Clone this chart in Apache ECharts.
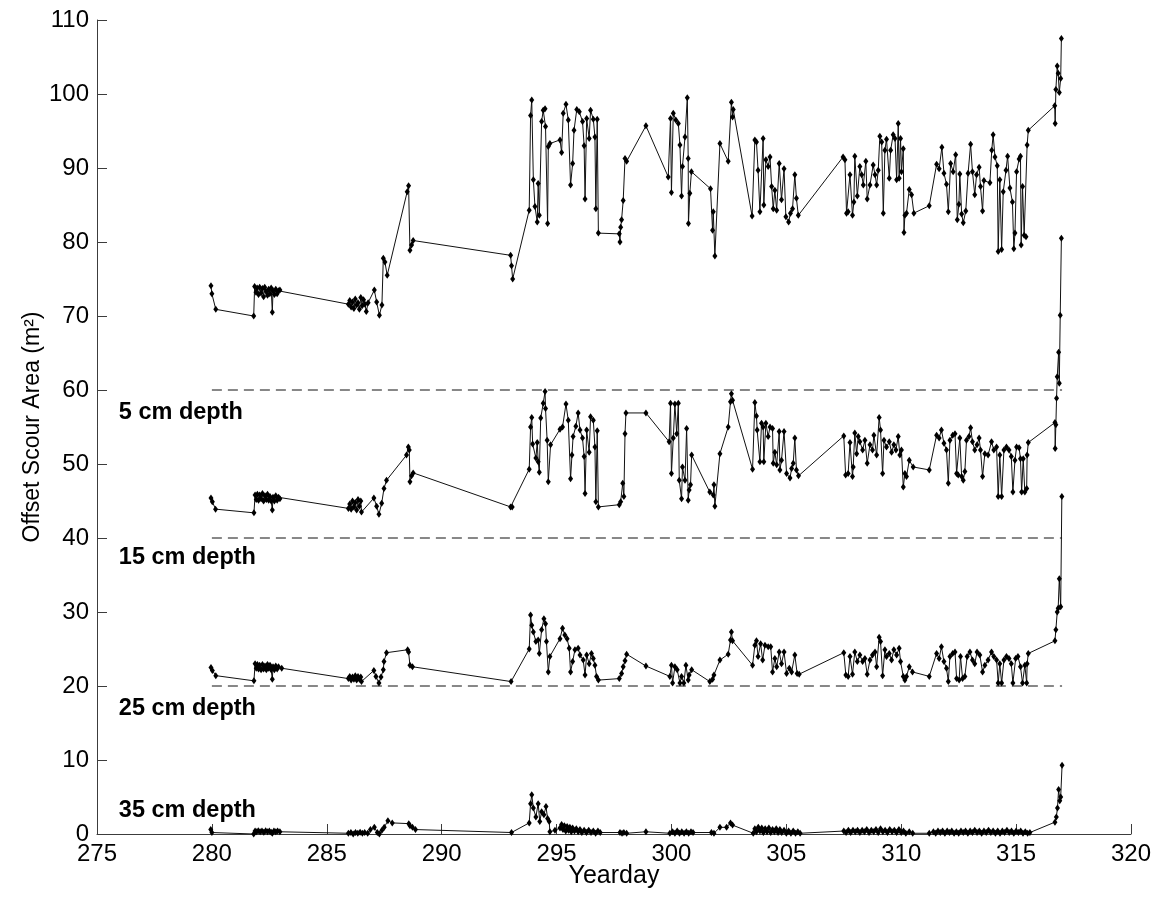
<!DOCTYPE html>
<html>
<head>
<meta charset="utf-8">
<script src="https://cdn.jsdelivr.net/npm/echarts@6/dist/echarts.min.js"></script>
<style>
html,body{margin:0;padding:0;background:#fff;}
#chart{width:1156px;height:898px;}
</style>
</head>
<body>
<div id="chart"></div>
<script>
// [yearday, offset scour area]
const depth5 = [
[279.96,74.1],[280.00,73.0],[280.17,70.9],[281.82,70.0],[281.86,74.0],[281.92,73.2],[281.97,73.8],[282.03,72.9],[282.08,73.9],[282.14,73.1],[282.20,73.7],[282.25,72.6],[282.30,73.9],[282.36,73.3],[282.42,72.8],[282.47,73.6],[282.52,73.0],[282.58,73.8],[282.63,70.5],[282.66,73.4],[282.72,72.9],[282.78,73.6],[282.84,73.0],[282.90,73.4],[282.96,73.5],
[285.94,71.6],[286.00,72.1],[286.06,71.2],[286.12,71.9],[286.18,71.0],[286.24,72.3],[286.30,71.5],[286.36,71.8],[286.42,70.9],[286.48,72.5],[286.54,71.4],[286.60,72.2],[286.66,71.6],[286.72,70.6],[286.80,71.8],[287.07,73.5],[287.17,71.9],[287.29,70.1],[287.40,71.5],[287.46,77.8],[287.53,77.3],[287.63,75.5],[288.50,86.8],[288.56,87.6],[288.62,78.9],[288.69,79.6],[288.76,80.2],
[293.00,78.2],[293.04,76.8],[293.09,75.0],[293.81,84.3],[293.87,97.1],[293.92,99.2],[293.99,88.4],[294.06,84.8],[294.16,82.7],[294.20,87.9],[294.25,83.6],[294.35,96.3],[294.42,97.8],[294.50,98.0],[294.52,95.6],[294.61,82.5],[294.64,92.9],[294.71,93.3],[295.15,93.8],[295.22,92.1],[295.29,97.4],[295.41,98.6],[295.51,96.5],[295.61,87.7],[295.70,90.6],[295.76,95.1],[295.88,97.9],[295.99,97.6],[296.13,96.3],[296.20,93.0],[296.24,85.8],[296.31,96.7],[296.42,94.0],[296.48,97.8],[296.60,96.6],[296.67,94.2],[296.71,84.5],[296.77,96.6],[296.82,81.2],
[297.73,81.1],[297.76,80.0],[297.79,82.0],[297.83,83.0],[297.90,85.6],[297.98,91.3],[298.05,90.9],[298.89,95.7],[299.86,88.8],[299.96,96.7],[300.00,86.7],[300.08,97.4],[300.19,96.5],[300.30,96.0],[300.37,93.1],[300.44,86.2],[300.48,90.2],[300.59,94.2],[300.69,99.5],[300.73,91.3],[300.74,82.5],[300.80,86.6],[300.87,89.5],[301.70,87.2],[301.79,81.6],[301.82,84.1],[301.89,78.1],[302.11,93.3],[302.47,90.9],[302.61,98.9],[302.66,96.9],[302.69,97.9],
[303.51,83.5],[303.63,93.8],[303.70,93.5],[303.77,89.7],[303.85,84.1],[303.99,94.0],[304.02,85.0],[304.11,91.1],[304.21,90.2],[304.29,91.5],[304.36,87.5],[304.43,84.5],[304.50,87.0],[304.58,84.3],[304.69,90.6],[304.79,85.7],[304.90,89.9],[304.98,83.4],[305.10,82.7],[305.18,83.9],[305.27,84.5],[305.37,89.1],[305.44,85.9],[305.52,83.6],
[307.47,91.5],[307.55,91.1],[307.62,83.9],[307.69,84.1],[307.77,89.1],[307.88,83.6],[307.94,85.4],[307.98,91.6],[308.09,86.2],[308.20,90.2],[308.28,89.1],[308.35,87.7],[308.46,90.9],[308.52,85.8],[308.64,87.7],[308.78,90.4],[308.86,89.1],[308.93,87.7],[309.00,89.7],[309.07,94.3],[309.15,93.5],[309.22,83.9],[309.29,92.4],[309.36,93.9],[309.48,88.6],[309.54,92.4],[309.65,94.5],[309.73,94.0],[309.80,88.4],[309.87,96.0],[309.91,88.6],[309.97,94.0],[310.01,89.5],[310.09,92.6],[310.12,81.3],[310.16,83.6],[310.23,83.9],[310.35,87.1],[310.45,86.4],[310.55,83.9],
[311.22,84.9],[311.54,90.5],[311.65,89.9],[311.77,92.8],[311.86,89.3],[311.97,87.8],[312.05,84.1],[312.15,90.6],[312.26,89.5],[312.37,91.8],[312.44,83.0],[312.51,85.1],[312.55,89.2],[312.63,83.8],[312.70,82.6],[312.81,84.2],[312.91,89.3],[313.02,93.2],[313.10,89.5],[313.20,86.4],[313.28,89.1],[313.39,90.1],[313.45,87.5],[313.54,84.2],[313.60,88.3],[313.86,88.0],[313.94,92.4],[314.00,94.5],[314.08,91.5],[314.18,90.3],[314.22,78.7],[314.29,88.4],[314.37,79.0],[314.44,86.8],[314.56,89.7],[314.63,91.6],[314.73,87.3],[314.84,85.4],[314.90,79.1],[314.95,81.2],[315.02,89.5],[315.13,91.2],[315.19,91.6],[315.22,79.6],[315.28,87.5],[315.35,80.9],[315.43,80.7],[315.48,93.1],[315.53,95.1],
[316.68,98.4],[316.70,96.0],[316.73,100.6],[316.79,103.8],[316.83,102.8],[316.88,100.2],[316.94,102.1],[316.97,107.5]
];

const depth15 = [
[279.96,45.4],[280.02,44.9],[280.16,43.9],[281.83,43.4],[281.88,45.8],[281.93,45.2],[281.98,45.9],[282.03,45.1],[282.08,45.8],[282.14,45.3],[282.20,46.0],[282.25,45.0],[282.31,45.7],[282.37,45.2],[282.42,45.9],[282.47,45.1],[282.53,45.6],[282.58,45.0],[282.63,43.8],[282.66,45.5],[282.72,45.0],[282.78,45.7],[282.84,45.1],[282.90,45.5],[282.96,45.3],
[285.94,44.0],[286.00,44.6],[286.06,43.9],[286.12,45.0],[286.18,44.2],[286.24,44.8],[286.30,43.8],[286.36,45.2],[286.42,44.3],[286.48,45.0],[286.51,43.5],[287.05,45.4],[287.17,44.3],[287.27,43.2],[287.39,44.7],[287.49,46.7],[287.60,47.8],[288.47,51.2],[288.55,52.3],[288.59,51.9],[288.62,47.6],[288.69,48.4],[288.76,48.8],
[293.00,44.2],[293.07,44.2],[293.81,49.3],[293.87,55.0],[293.92,56.3],[293.96,52.7],[294.10,50.8],[294.16,52.9],[294.20,50.3],[294.25,48.9],[294.31,56.2],[294.42,58.2],[294.50,59.8],[294.52,57.5],[294.59,53.2],[294.64,47.6],[294.74,52.6],[295.15,54.7],[295.26,55.0],[295.41,58.1],[295.51,55.9],[295.61,48.0],[295.67,51.2],[295.72,53.7],[295.84,55.1],[295.94,56.9],[296.02,54.6],[296.13,53.5],[296.20,51.0],[296.24,46.0],[296.31,54.6],[296.42,51.6],[296.48,56.4],[296.60,55.9],[296.67,52.3],[296.71,44.9],[296.77,54.5],[296.82,44.2],
[297.73,44.5],[297.79,44.9],[297.88,47.4],[297.93,45.6],[297.98,54.1],[298.02,56.9],[298.89,56.9],[299.90,53.0],[299.96,58.2],[300.00,48.7],[300.08,53.5],[300.15,58.1],[300.23,54.1],[300.30,58.2],[300.34,47.8],[300.44,45.3],[300.48,49.6],[300.59,47.8],[300.66,54.8],[300.73,45.1],[300.77,46.5],[300.83,47.2],[300.88,51.2],[301.67,46.2],[301.82,45.8],[301.85,47.2],[301.89,44.3],[302.11,51.4],[302.47,55.0],[302.57,58.4],[302.61,59.5],[302.66,58.6],
[303.53,49.3],[303.63,58.3],[303.70,56.5],[303.73,54.6],[303.85,50.3],[303.92,55.5],[303.99,55.0],[304.02,50.3],[304.11,55.5],[304.21,53.7],[304.29,55.0],[304.40,54.8],[304.43,50.1],[304.50,51.6],[304.58,49.9],[304.69,54.4],[304.72,49.2],[304.79,50.5],[304.90,54.4],[305.01,48.7],[305.16,48.1],[305.23,49.4],[305.30,50.1],[305.37,53.5],[305.44,49.2],[305.53,48.4],
[307.50,53.8],[307.58,48.5],[307.69,48.7],[307.77,52.9],[307.88,48.3],[307.91,49.6],[307.98,54.2],[308.06,51.4],[308.13,53.7],[308.20,53.0],[308.32,51.9],[308.42,53.2],[308.52,50.1],[308.64,52.6],[308.75,51.9],[308.81,53.9],[308.93,51.2],[309.04,56.3],[309.10,54.6],[309.19,48.7],[309.25,53.2],[309.36,52.3],[309.48,53.0],[309.58,51.6],[309.68,52.6],[309.77,51.9],[309.87,53.7],[309.94,51.2],[310.01,51.9],[310.09,46.9],[310.16,48.7],[310.23,48.3],[310.35,50.5],[310.52,49.6],
[311.22,49.2],[311.54,53.9],[311.65,53.5],[311.75,54.6],[311.86,52.8],[311.97,51.9],[312.05,47.4],[312.12,53.2],[312.24,53.9],[312.34,54.1],[312.41,48.7],[312.48,48.5],[312.55,53.5],[312.63,48.3],[312.70,47.8],[312.77,49.0],[312.84,53.2],[312.95,53.7],[313.02,54.9],[313.10,53.0],[313.20,51.9],[313.30,52.6],[313.39,53.5],[313.45,51.9],[313.54,48.3],[313.64,51.4],[313.78,51.2],[313.93,53.0],[314.03,51.9],[314.15,52.3],[314.22,45.6],[314.29,51.2],[314.37,45.6],[314.47,51.9],[314.58,52.3],[314.69,51.9],[314.79,51.0],[314.86,46.2],[314.95,50.5],[315.02,52.3],[315.13,52.2],[315.19,50.7],[315.24,46.2],[315.31,50.7],[315.38,46.2],[315.46,46.7],[315.48,51.2],[315.53,52.9],
[316.69,55.6],[316.70,52.1],[316.73,55.3],[316.76,58.9],[316.79,61.8],[316.85,65.1],[316.88,60.9],[316.92,70.1],[316.97,80.5]
];

const depth25 = [
[279.96,22.5],[280.02,22.1],[280.17,21.4],[281.83,20.7],[281.88,23.0],[281.93,22.4],[281.98,22.9],[282.03,22.3],[282.08,22.8],[282.14,22.2],[282.20,22.9],[282.25,22.3],[282.31,22.7],[282.37,22.2],[282.42,22.9],[282.47,22.4],[282.53,22.8],[282.58,22.2],[282.63,20.9],[282.66,22.6],[282.72,22.2],[282.78,22.7],[282.84,22.3],[282.90,22.6],[283.04,22.4],
[285.94,21.0],[286.00,21.3],[286.06,20.8],[286.12,21.2],[286.18,20.9],[286.24,21.4],[286.30,20.8],[286.36,21.3],[286.42,20.9],[286.48,21.2],[286.51,20.6],[287.05,22.1],[287.14,21.3],[287.27,20.4],[287.36,21.2],[287.46,22.2],[287.49,23.3],[287.60,24.5],[288.52,24.9],[288.56,24.6],[288.62,22.8],[288.73,22.6],
[293.02,20.6],[293.81,25.0],[293.87,29.6],[293.92,28.2],[293.99,27.3],[294.10,26.0],[294.20,26.2],[294.25,24.4],[294.35,27.6],[294.45,29.1],[294.52,28.4],[294.56,26.0],[294.64,21.9],[294.71,24.0],[295.15,26.4],[295.26,27.8],[295.36,26.9],[295.46,26.4],[295.55,25.1],[295.61,21.9],[295.70,23.3],[295.80,24.9],[295.94,25.1],[296.02,24.2],[296.16,23.5],[296.24,21.5],[296.31,24.2],[296.42,23.0],[296.52,24.4],[296.60,23.7],[296.67,22.8],[296.74,21.3],[296.82,20.8],
[297.73,21.0],[297.83,21.7],[297.90,22.6],[297.98,23.4],[298.05,24.3],[298.89,22.7],[299.93,21.3],[300.00,22.8],[300.05,20.4],[300.15,22.6],[300.25,22.2],[300.37,20.4],[300.44,21.3],[300.54,20.4],[300.63,22.8],[300.73,20.8],[300.77,21.5],[300.88,22.2],[301.67,20.6],[301.79,20.9],[301.85,21.5],[302.11,23.5],[302.47,24.3],[302.57,26.2],[302.61,27.3],[302.66,26.1],
[303.53,22.8],[303.63,25.5],[303.70,26.1],[303.77,24.0],[303.88,25.7],[303.97,23.5],[304.07,25.5],[304.21,25.3],[304.32,25.3],[304.40,21.9],[304.50,23.7],[304.58,22.6],[304.69,24.6],[304.79,23.0],[304.90,24.6],[305.01,21.7],[305.13,22.4],[305.23,21.9],[305.37,24.2],[305.47,21.7],[305.56,21.6],
[307.50,24.5],[307.59,21.5],[307.69,21.3],[307.77,24.0],[307.88,21.6],[307.98,24.6],[308.09,23.3],[308.20,24.2],[308.32,23.3],[308.42,23.7],[308.52,21.6],[308.64,23.5],[308.75,24.2],[308.86,24.6],[308.93,22.6],[309.04,26.6],[309.10,26.0],[309.19,21.4],[309.29,24.9],[309.36,24.0],[309.48,24.4],[309.58,23.5],[309.68,24.9],[309.80,24.2],[309.91,25.1],[309.97,23.3],[310.09,21.3],[310.16,20.8],[310.23,21.3],[310.35,22.6],[310.49,21.9],
[311.22,21.3],[311.54,24.4],[311.65,23.7],[311.75,25.3],[311.86,23.3],[311.97,22.4],[312.05,20.6],[312.12,24.0],[312.24,24.4],[312.34,24.6],[312.41,21.0],[312.52,20.8],[312.58,24.0],[312.67,21.0],[312.77,21.3],[312.87,24.0],[312.99,24.6],[313.10,23.5],[313.20,23.0],[313.30,24.6],[313.42,24.2],[313.54,21.9],[313.64,22.8],[313.78,23.5],[313.93,24.6],[314.03,24.0],[314.15,23.5],[314.22,20.4],[314.29,23.0],[314.37,20.4],[314.47,23.5],[314.58,24.0],[314.69,23.7],[314.79,23.0],[314.86,20.4],[314.98,23.7],[315.08,24.0],[315.19,22.6],[315.28,20.4],[315.38,22.8],[315.46,20.4],[315.48,23.0],[315.53,24.4],
[316.69,26.1],[316.73,27.6],[316.79,30.0],[316.83,30.5],[316.88,34.5],[316.94,30.7],[316.99,45.6]
];

const depth35 = [
[279.95,0.6],[280.00,0.2],[281.82,0.0],[281.88,0.4],[281.95,0.3],[282.02,0.45],[282.10,0.3],[282.18,0.4],[282.26,0.25],[282.34,0.45],[282.42,0.3],[282.50,0.4],[282.58,0.25],[282.63,0.1],[282.70,0.4],[282.78,0.3],[282.86,0.4],[282.96,0.3],
[285.94,0.1],[286.05,0.2],[286.15,0.0],[286.25,0.2],[286.35,0.1],[286.45,0.25],[286.55,0.1],[286.65,0.2],[286.78,0.1],[286.90,0.6],[287.07,0.9],[287.20,0.2],[287.29,0.0],[287.40,0.5],[287.50,0.9],[287.66,1.8],[287.85,1.5],[288.57,1.4],[288.62,1.1],[288.73,0.9],[288.86,0.6],
[293.04,0.2],[293.81,1.5],[293.87,4.1],[293.92,5.3],[293.99,3.5],[294.10,2.3],[294.20,4.1],[294.27,1.7],[294.35,3.0],[294.45,2.6],[294.54,3.7],[294.61,2.1],[294.68,1.7],[294.71,0.3],[294.93,0.5],[295.15,0.8],[295.22,1.3],[295.28,0.6],[295.34,1.1],[295.40,0.4],[295.46,1.0],[295.52,0.5],[295.58,0.9],[295.64,0.3],[295.70,0.8],[295.78,0.4],[295.86,0.7],[295.94,0.3],[296.02,0.6],[296.10,0.2],[296.20,0.5],[296.30,0.2],[296.40,0.5],[296.50,0.2],[296.60,0.4],[296.70,0.1],[296.80,0.4],[296.90,0.2],
[297.76,0.2],[297.85,0.1],[297.93,0.2],[298.05,0.1],[298.89,0.3],[299.93,0.1],[300.05,0.3],[300.15,0.1],[300.25,0.4],[300.35,0.1],[300.45,0.3],[300.55,0.1],[300.65,0.3],[300.75,0.1],[300.85,0.3],[300.94,0.2],[301.74,0.2],[301.85,0.1],[302.11,0.9],[302.40,0.9],[302.57,1.5],[302.66,1.2],
[303.56,0.1],[303.63,0.7],[303.70,0.3],[303.78,0.9],[303.85,0.4],[303.93,0.8],[304.00,0.2],[304.08,0.7],[304.16,0.3],[304.24,0.8],[304.32,0.2],[304.40,0.6],[304.48,0.3],[304.56,0.7],[304.64,0.2],[304.72,0.6],[304.80,0.2],[304.90,0.5],[305.00,0.1],[305.10,0.4],[305.20,0.1],[305.30,0.4],[305.40,0.1],[305.50,0.3],[305.60,0.1],
[307.50,0.4],[307.60,0.2],[307.70,0.5],[307.80,0.2],[307.90,0.5],[308.00,0.3],[308.10,0.5],[308.20,0.2],[308.30,0.5],[308.40,0.3],[308.50,0.6],[308.60,0.2],[308.70,0.5],[308.80,0.3],[308.90,0.6],[309.00,0.2],[309.10,0.7],[309.20,0.3],[309.30,0.5],[309.40,0.2],[309.50,0.6],[309.60,0.3],[309.70,0.5],[309.80,0.2],[309.90,0.6],[310.00,0.2],[310.10,0.4],[310.20,0.1],[310.35,0.3],[310.50,0.1],
[311.22,0.1],[311.40,0.3],[311.50,0.1],[311.60,0.4],[311.70,0.2],[311.80,0.4],[311.90,0.1],[312.00,0.4],[312.10,0.2],[312.20,0.4],[312.30,0.1],[312.40,0.3],[312.50,0.1],[312.60,0.4],[312.70,0.2],[312.80,0.4],[312.90,0.1],[313.00,0.4],[313.10,0.2],[313.20,0.5],[313.30,0.2],[313.40,0.4],[313.50,0.1],[313.60,0.4],[313.70,0.2],[313.80,0.5],[313.90,0.2],[314.00,0.4],[314.10,0.1],[314.20,0.4],[314.30,0.1],[314.40,0.4],[314.50,0.2],[314.60,0.5],[314.70,0.2],[314.80,0.4],[314.90,0.1],[315.00,0.4],[315.10,0.2],[315.20,0.4],[315.30,0.1],[315.40,0.3],[315.50,0.1],[315.60,0.2],
[316.69,1.6],[316.75,2.3],[316.80,3.5],[316.85,6.0],[316.90,4.5],[316.94,5.0],[317.00,9.3]
];

const thresholdLevels = [60, 40, 20];
const thresholdStart = 280;
const thresholdEnd = 317;
const depthLabels = ['5 cm depth', '15 cm depth', '25 cm depth', '35 cm depth'];
const depthLabelX = 275.95;
const depthLabelY = [57.0, 37.3, 17.0, 3.2];

const xTicks = {min: 275, max: 320, interval: 5};
const yTicks = {min: 0, max: 110, interval: 10};

const FONT = '"Liberation Sans", Arial, sans-serif';
const chart = echarts.init(document.getElementById('chart'), null, {renderer: 'canvas'});

function dataSeries(d) {
  return {
    type: 'line', data: d, symbol: 'diamond', symbolSize: [5, 7],
    showSymbol: true, animation: false, silent: true,
    lineStyle: {color: '#111', width: 1},
    itemStyle: {color: '#000'}
  };
}

const series = [depth5, depth15, depth25, depth35].map(dataSeries);
thresholdLevels.forEach(v => {
  series.push({
    type: 'line', data: [[thresholdStart, v], [thresholdEnd, v]], symbol: 'none',
    animation: false, silent: true,
    lineStyle: {color: '#111', width: 1, type: [10, 6]}
  });
});
series.push({
  type: 'scatter', symbolSize: 0, animation: false, silent: true,
  itemStyle: {opacity: 1},
  data: depthLabels.map((t, i) => ({value: [depthLabelX, depthLabelY[i]], name: t})),
  label: {
    show: true, position: 'right', distance: 0, formatter: p => p.name,
    fontFamily: FONT, fontWeight: 'bold', fontSize: 23.5, color: '#000', opacity: 1,
    textBorderWidth: 0
  }
});

const axisCommon = {
  axisLine: {show: true, onZero: false, lineStyle: {color: '#3c3c3c', width: 1}},
  axisTick: {show: true, inside: true, length: 10, lineStyle: {color: '#3c3c3c'}},
  splitLine: {show: false},
  axisLabel: {color: '#000', fontSize: 24, fontFamily: FONT, margin: 8},
  nameMoveOverlap: false
};

chart.setOption({
  backgroundColor: '#fff',
  animation: false,
  grid: {left: 97, right: 25, top: 20, bottom: 64, containLabel: false},
  xAxis: Object.assign({
    type: 'value', min: xTicks.min, max: xTicks.max, interval: xTicks.interval,
    name: 'Yearday', nameLocation: 'middle', nameGap: 30,
    nameTextStyle: {color: '#000', fontSize: 25, fontFamily: FONT}
  }, axisCommon),
  yAxis: Object.assign({
    type: 'value', min: yTicks.min, max: yTicks.max, interval: yTicks.interval,
    name: 'Offset Scour Area (m²)', nameLocation: 'middle', nameGap: 53,
    nameTextStyle: {color: '#000', fontSize: 23, fontFamily: FONT}
  }, axisCommon),
  series: series
});
</script>
</body>
</html>
